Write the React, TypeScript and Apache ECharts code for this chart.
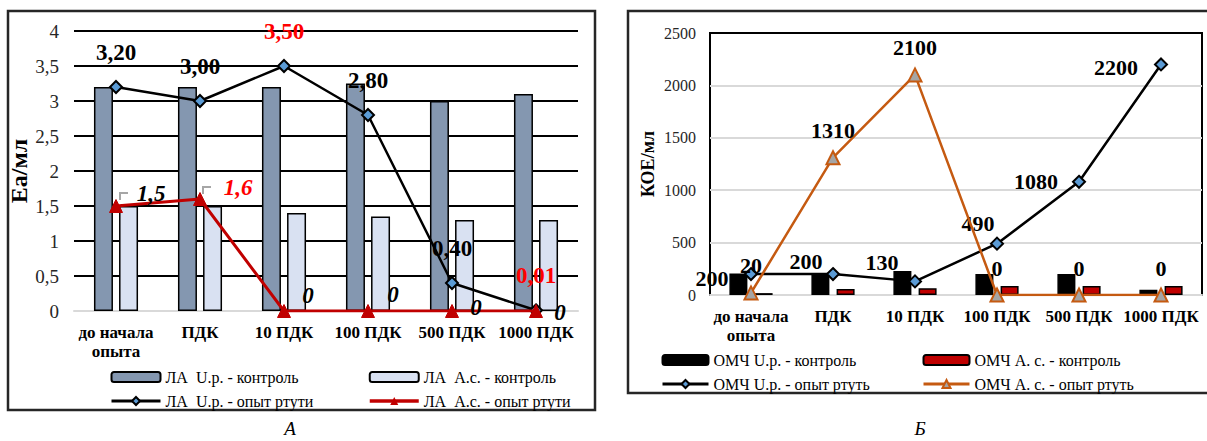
import React, { useEffect, useRef } from "react";
import * as echarts from "echarts";

const categories = ["до начала\nопыта", "ПДК", "10 ПДК", "100 ПДК", "500 ПДК", "1000 ПДК"];

const laUrControl = [3.2, 3.2, 3.2, 3.25, 3.0, 3.1];
const laAsControl = [1.5, 1.5, 1.4, 1.35, 1.3, 1.3];
const laUrMercury = [3.2, 3.0, 3.5, 2.8, 0.4, 0.01];
const laAsMercury = [1.5, 1.6, 0, 0, 0, 0];

const omchUrControl = [205, 210, 230, 200, 200, 50];
const omchAsControl = [18, 58, 65, 85, 85, 85];
const omchUrMercury = [200, 200, 130, 490, 1080, 2200];
const omchAsMercury = [20, 1310, 2100, 0, 0, 0];

const FONT = "Liberation Serif, Times New Roman, serif";

export default function App() {
  const ref = useRef<HTMLDivElement>(null);
  useEffect(() => {
    if (!ref.current) return;
    const chart = echarts.init(ref.current, null, { renderer: "svg" });
    const comma = (v: number, d: number) => v.toFixed(d).replace(".", ",");

    const redIdxLeft = [2, 5];
    const leftBlackLine = laUrMercury.map((v, i) => ({
      value: v,
      label: { color: redIdxLeft.includes(i) ? "#FF0000" : "#000" },
    }));
    const redOffsets = [[35, -13], [38, -12], [24, -16], [25, -17], [24, -4], [24, 1]];
    const leftRedLine = laAsMercury.map((v, i) => ({
      value: v,
      label: { color: i === 1 ? "#FF0000" : "#000", offset: redOffsets[i] },
    }));
    const blackOffsets = [[-39, 4], [-27, -13], [-33, -19], [-19, -20], [-43, 0], [-45, 3]];
    const rightBlackLine = omchUrMercury.map((v, i) => ({
      value: v,
      label: { offset: blackOffsets[i] },
    }));

    const legendText = { fontFamily: FONT, fontSize: 16, color: "#000" };

    chart.setOption({
      animation: false,
      textStyle: { fontFamily: FONT },
      grid: [
        { left: 74, top: 31, width: 504, height: 280 },
        {
          left: 710, top: 33, width: 492, height: 262,
          show: true, borderColor: "#000", borderWidth: 2, backgroundColor: "transparent",
        },
      ],
      xAxis: [
        {
          type: "category", gridIndex: 0, data: categories,
          axisLine: { lineStyle: { color: "#D9D9D9", width: 2 } },
          axisTick: { show: false },
          axisLabel: { fontFamily: FONT, fontSize: 17, fontWeight: "bold", color: "#000", lineHeight: 19, margin: 12, interval: 0 },
        },
        {
          type: "category", gridIndex: 1, data: categories,
          axisLine: { lineStyle: { color: "#D9D9D9", width: 2 } },
          axisTick: { show: false },
          axisLabel: { fontFamily: FONT, fontSize: 17, fontWeight: "bold", color: "#000", lineHeight: 19, margin: 12, interval: 0 },
        },
      ],
      yAxis: [
        {
          type: "value", gridIndex: 0, min: 0, max: 4, interval: 0.5,
          name: "Ea/мл", nameLocation: "middle", nameRotate: 90, nameGap: 38,
          nameTextStyle: { fontFamily: FONT, fontSize: 24, fontWeight: "bold", color: "#000" },
          axisLine: { show: false }, axisTick: { show: false },
          axisLabel: { fontFamily: FONT, fontSize: 19, color: "#262626", margin: 15, formatter: (v: number) => String(v).replace(".", ",") },
          splitLine: { lineStyle: { color: ["#D9D9D9", "#000", "#000", "#000", "#000", "#000", "#000", "#000", "#000"], width: 2 } },
        },
        {
          type: "value", gridIndex: 1, min: 0, max: 2500, interval: 500,
          name: "КОЕ/мл", nameLocation: "middle", nameRotate: 90, nameGap: 53,
          nameTextStyle: { fontFamily: FONT, fontSize: 18, fontWeight: "bold", color: "#000" },
          axisLine: { show: false }, axisTick: { show: false },
          axisLabel: { fontFamily: FONT, fontSize: 16, color: "#262626", margin: 14, formatter: (v: number) => String(v) },
          splitLine: { lineStyle: { color: ["#D9D9D9", "#D9D9D9", "#D9D9D9", "#D9D9D9", "#D9D9D9", "#000"], width: 2 } },
        },
      ],
      legend: [
        {
          left: 105, top: 364, orient: "vertical", itemGap: 8, itemWidth: 49, itemHeight: 10,
          itemTextGap: 5, textStyle: legendText,
          data: ["ЛА  U.р. - контроль", { name: "ЛА  U.р. - опыт ртути", lineStyle: { width: 3 } }],
        },
        {
          left: 363, top: 364, orient: "vertical", itemGap: 8, itemWidth: 49, itemHeight: 10,
          itemTextGap: 5, textStyle: legendText,
          data: ["ЛА  А.с. - контроль", { name: "ЛА  А.с. - опыт ртути", lineStyle: { width: 3.5 } }],
        },
        {
          left: 656, top: 347, orient: "vertical", itemGap: 8, itemWidth: 46, itemHeight: 10,
          itemTextGap: 5, textStyle: legendText,
          data: ["ОМЧ U.р. - контроль", { name: "ОМЧ U.р. - опыт ртуть", lineStyle: { width: 3 } }],
        },
        {
          left: 917, top: 347, orient: "vertical", itemGap: 8, itemWidth: 46, itemHeight: 10,
          itemTextGap: 5, textStyle: legendText,
          data: ["ОМЧ А. с. - контроль", { name: "ОМЧ А. с. - опыт ртуть", lineStyle: { width: 3 } }],
        },
      ],
      series: [
        {
          name: "ЛА  U.р. - контроль", type: "bar", xAxisIndex: 0, yAxisIndex: 0,
          data: laUrControl, barWidth: 19, barGap: "32%",
          itemStyle: { color: "#8497B0", borderColor: "#000", borderWidth: 1.5 },
        },
        {
          name: "ЛА  А.с. - контроль", type: "bar", xAxisIndex: 0, yAxisIndex: 0,
          data: laAsControl, barWidth: 19, barGap: "32%",
          itemStyle: { color: "#D9E1F2", borderColor: "#000", borderWidth: 1.5 },
        },
        {
          name: "ЛА  U.р. - опыт ртути", type: "line", xAxisIndex: 0, yAxisIndex: 0,
          data: leftBlackLine, z: 5,
          lineStyle: { color: "#000", width: 2.5 }, symbol: "diamond", symbolSize: 12,
          itemStyle: { color: "#5B9BD5", borderColor: "#000", borderWidth: 2 },
          label: {
            show: true, position: "top", distance: 16, fontFamily: FONT, fontSize: 23, fontWeight: "bold",
            formatter: (p: any) => comma(p.value, 2),
          },
        },
        {
          name: "ЛА  А.с. - опыт ртути", type: "line", xAxisIndex: 0, yAxisIndex: 0,
          data: leftRedLine, z: 6,
          lineStyle: { color: "#C00000", width: 3 }, symbol: "triangle", symbolSize: 13,
          itemStyle: { color: "#C00000", borderColor: "#C00000" },
          label: {
            show: true, position: "inside", fontFamily: FONT, fontSize: 23, fontWeight: "bold", fontStyle: "italic",
            formatter: (p: any) => (p.value === 0 ? "0" : comma(p.value, 1)),
          },
        },
        {
          name: "ОМЧ U.р. - контроль", type: "bar", xAxisIndex: 1, yAxisIndex: 1,
          data: omchUrControl, barWidth: 18, barGap: "40%",
          itemStyle: { color: "#000", borderColor: "#000", borderWidth: 1.5 },
        },
        {
          name: "ОМЧ А. с. - контроль", type: "bar", xAxisIndex: 1, yAxisIndex: 1,
          data: omchAsControl, barWidth: 18, barGap: "40%",
          itemStyle: { color: "#C00000", borderColor: "#000", borderWidth: 1.5 },
        },
        {
          name: "ОМЧ U.р. - опыт ртуть", type: "line", xAxisIndex: 1, yAxisIndex: 1,
          data: rightBlackLine, z: 5,
          lineStyle: { color: "#000", width: 2.5 }, symbol: "diamond", symbolSize: 12,
          itemStyle: { color: "#5B9BD5", borderColor: "#000", borderWidth: 2 },
          label: {
            show: true, position: "inside", fontFamily: FONT, fontSize: 22, fontWeight: "bold", color: "#000",
          },
        },
        {
          name: "ОМЧ А. с. - опыт ртуть", type: "line", xAxisIndex: 1, yAxisIndex: 1,
          data: omchAsMercury, z: 6,
          lineStyle: { color: "#C55A11", width: 2.5 }, symbol: "triangle", symbolSize: 13,
          itemStyle: { color: "#A5A5A5", borderColor: "#C55A11", borderWidth: 2 },
          label: {
            show: true, position: "inside", offset: [0, -27], fontFamily: FONT, fontSize: 22, fontWeight: "bold", color: "#000",
          },
        },
      ],
      graphic: [
        {
          type: "rect", shape: { x: 8, y: 11, width: 587, height: 399 },
          style: { fill: "none", stroke: "#262626", lineWidth: 2.5 }, silent: true,
        },
        {
          type: "rect", shape: { x: 628, y: 11, width: 600, height: 382 },
          style: { fill: "none", stroke: "#262626", lineWidth: 2.5 }, silent: true,
        },
        {
          type: "polyline", shape: { points: [[120, 200], [120, 193], [128, 193]] },
          style: { fill: "none", stroke: "#A6A6A6", lineWidth: 2 }, silent: true,
        },
        {
          type: "polyline", shape: { points: [[203, 194], [203, 187], [211, 187]] },
          style: { fill: "none", stroke: "#A6A6A6", lineWidth: 2 }, silent: true,
        },
        {
          type: "text", x: 290, y: 428,
          style: { text: "А", fontFamily: FONT, fontSize: 19, fontStyle: "italic", fill: "#000", textAlign: "center", textVerticalAlign: "middle" },
        },
        {
          type: "text", x: 920, y: 428,
          style: { text: "Б", fontFamily: FONT, fontSize: 19, fontStyle: "italic", fill: "#000", textAlign: "center", textVerticalAlign: "middle" },
        },
      ],
    });
    return () => chart.dispose();
  }, []);
  return <div ref={ref} style={{ position: "absolute", left: 0, top: 0, width: 1207, height: 441 }} />;
}
